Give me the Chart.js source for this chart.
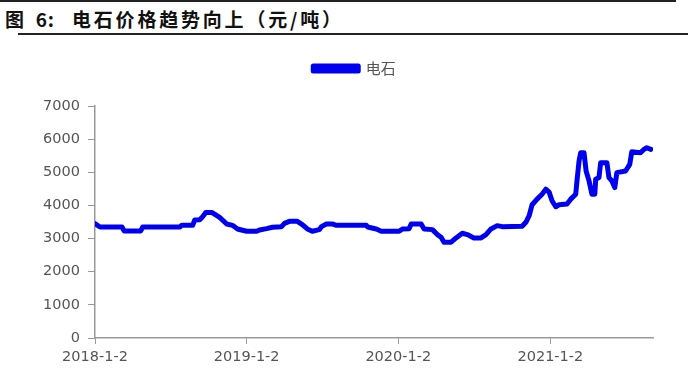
<!DOCTYPE html>
<html>
<head>
<meta charset="utf-8">
<script src="https://cdn.jsdelivr.net/npm/chart.js@4"></script>
<style>
  body { margin: 0; background: #fff; width: 700px; height: 386px; overflow: hidden; position: relative; font-family: "Noto Sans CJK SC", sans-serif; }
  #topLine { position: absolute; left: 0; top: 0; width: 676px; height: 2px; background: #222; }
  #title { position: absolute; left: 5px; top: 5px; font-size: 19px; font-weight: bold; color: #111; white-space: pre; line-height: 28px; }
  #title .fig { letter-spacing: 1px; }
  #title .main { position: absolute; left: 67px; top: 0; letter-spacing: 2.8px; }
  #titleLine { position: absolute; left: 18px; top: 33px; width: 670px; height: 2px; background: #222; }
  #wrap { position: absolute; left: 0; top: 40px; width: 700px; height: 346px; }
</style>
</head>
<body>
<div id="topLine"></div>
<div id="title"><span class="fig">图  6:</span><span class="main">电石价格趋势向上（元/吨）</span></div>
<div id="titleLine"></div>
<div id="wrap"><canvas id="myChart" width="700" height="346"></canvas></div>
<script>
'use strict';

// 电石价格 (元/吨)
let priceDates = [
  '2018-01-02', '2018-01-14', '2018-03-08', '2018-03-13', '2018-04-22', '2018-04-27',
  '2018-07-25', '2018-07-30', '2018-08-25', '2018-08-30', '2018-09-11', '2018-09-18',
  '2018-09-26', '2018-10-10', '2018-10-29', '2018-11-15', '2018-11-29', '2018-12-11',
  '2019-01-02', '2019-01-26', '2019-02-02', '2019-02-19', '2019-03-05', '2019-03-27',
  '2019-04-03', '2019-04-15', '2019-05-04', '2019-05-16', '2019-05-28', '2019-06-09',
  '2019-06-26', '2019-07-01', '2019-07-13', '2019-07-27', '2019-08-06', '2019-10-17',
  '2019-10-20', '2019-11-10', '2019-11-22', '2020-01-04', '2020-01-12', '2020-01-28',
  '2020-02-02', '2020-02-26', '2020-03-04', '2020-03-24', '2020-04-05', '2020-04-14',
  '2020-04-21', '2020-05-08', '2020-05-20', '2020-06-04', '2020-06-16', '2020-07-02',
  '2020-07-19', '2020-07-31', '2020-08-12', '2020-08-27', '2020-09-08', '2020-10-26',
  '2020-11-04', '2020-11-12', '2020-11-19', '2020-12-01', '2020-12-13', '2020-12-22',
  '2020-12-30', '2021-01-06', '2021-01-15', '2021-01-23', '2021-02-11', '2021-02-20',
  '2021-03-04', '2021-03-07', '2021-03-12', '2021-03-16', '2021-03-24', '2021-03-29',
  '2021-04-05', '2021-04-12', '2021-04-19', '2021-04-21', '2021-04-29', '2021-05-03',
  '2021-05-18', '2021-05-23', '2021-05-30', '2021-06-06', '2021-06-11', '2021-07-02',
  '2021-07-12', '2021-07-17', '2021-08-07', '2021-08-15', '2021-08-22', '2021-09-01'
];
let priceValues = [
  3450, 3350, 3350, 3230, 3230, 3350,
  3350, 3400, 3400, 3560, 3570, 3660,
  3790, 3790, 3640, 3440, 3400, 3290,
  3220, 3220, 3260, 3300, 3340, 3360,
  3460, 3520, 3520, 3420, 3290, 3220,
  3270, 3360, 3440, 3440, 3400, 3400,
  3350, 3290, 3220, 3220, 3290, 3300,
  3440, 3440, 3290, 3270, 3120, 3040,
  2890, 2890, 3020, 3160, 3120, 3020,
  3020, 3120, 3290, 3390, 3360, 3370,
  3490, 3690, 4020, 4190, 4340, 4490,
  4400, 4140, 3960, 4020, 4040, 4190,
  4340, 4740, 5340, 5590, 5590, 5040,
  4740, 4340, 4340, 4790, 4840, 5290,
  5290, 4840, 4740, 4540, 4990, 5040,
  5240, 5620, 5590, 5690, 5740, 5690
];

let tickDates = ['2018-01-02', '2019-01-02', '2020-01-02', '2021-01-02'];
let tickLabels = ['2018-1-2', '2019-1-2', '2020-1-2', '2021-1-2'];
let axisEndDate = '2021-09-06';

let yTicks = [0, 1000, 2000, 3000, 4000, 5000, 6000, 7000];

// days since the first date, used as the x value
function dayIndex(dateStr) {
  let start = Date.parse(priceDates[0] + 'T00:00:00Z');
  return Math.round((Date.parse(dateStr + 'T00:00:00Z') - start) / 86400000);
}

let points = [];
for (let i = 0; i < priceDates.length; i++) {
  points.push({ x: dayIndex(priceDates[i]), y: priceValues[i] });
}
let tickDays = tickDates.map(dayIndex);

const axisGrey = '#999999';
const labelGrey = '#555555';
const tickFont = { family: '"DejaVu Sans"', size: 14.5 };

// leave a gap between the legend and the plot, and nudge the legend right
const legendGap = {
  id: 'legendGap',
  beforeInit(chart) {
    const origFit = chart.legend.fit;
    chart.legend.fit = function () {
      origFit.bind(chart.legend)();
      this.height += 20;
    };
  },
  afterLayout(chart) {
    chart.legend.left += 28;
    chart.legend.right += 28;
  }
};

const chartGraphics = {
  type: 'line',
  data: {
    datasets: [{
      label: '电石',
      data: points,
      borderColor: '#0000f0',
      backgroundColor: '#0000f0',
      borderWidth: 5,
      borderJoinStyle: 'round',
      borderCapStyle: 'round',
      pointRadius: 0,
      tension: 0
    }]
  },
  options: {
    responsive: false,
    animation: false,
    devicePixelRatio: 1,
    layout: {
      padding: { left: 0, right: 47, top: 9, bottom: 0 }
    },
    plugins: {
      legend: {
        position: 'top',
        labels: {
          boxWidth: 45,
          boxHeight: 5,
          padding: 12,
          color: labelGrey,
          font: { family: '"Noto Sans CJK SC"', size: 15 }
        }
      },
      tooltip: { enabled: false }
    },
    scales: {
      x: {
        type: 'linear',
        min: 0,
        max: dayIndex(axisEndDate),
        afterBuildTicks: function (axis) {
          axis.ticks = tickDays.map(function (d) { return { value: d }; });
        },
        afterFit: function (scale) {
          scale.height = 48;
        },
        ticks: {
          autoSkip: false,
          maxRotation: 0,
          padding: 5,
          color: labelGrey,
          font: tickFont,
          callback: function (value) {
            let idx = tickDays.indexOf(value);
            return idx >= 0 ? tickLabels[idx] : '';
          }
        },
        grid: { drawOnChartArea: false, drawTicks: true, tickLength: 6, color: axisGrey },
        border: { color: axisGrey, width: 1.5 }
      },
      y: {
        min: 0,
        max: 7000,
        afterBuildTicks: function (axis) {
          axis.ticks = yTicks.map(function (v) { return { value: v }; });
        },
        afterFit: function (scale) {
          scale.width = 95;
        },
        ticks: {
          padding: 8,
          color: labelGrey,
          font: tickFont,
          callback: function (value) {
            return String(value);
          }
        },
        grid: { drawOnChartArea: false, drawTicks: true, tickLength: 7, color: axisGrey },
        border: { color: axisGrey, width: 1.5 }
      }
    }
  },
  plugins: [legendGap]
};

let canvasChart = document.getElementById('myChart').getContext('2d');
const myChart = new Chart(canvasChart, chartGraphics);
</script>
</body>
</html>
